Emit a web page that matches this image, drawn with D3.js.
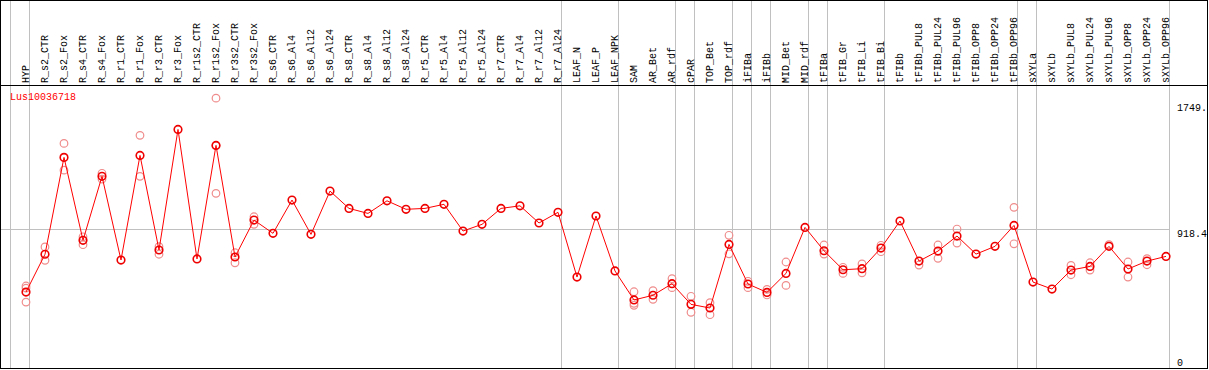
<!DOCTYPE html>
<html>
<head>
<meta charset="utf-8">
<script src="https://cdnjs.cloudflare.com/ajax/libs/d3/7.8.5/d3.min.js"></script>
<style>
  html, body { margin: 0; padding: 0; background: #fff; }
  svg { display: block; }
  text { font-family: "Liberation Mono", "DejaVu Sans Mono", monospace; font-size: 10px; }
</style>
</head>
<body>
<div id="chart"></div>
<script>
// sample names, left to right
var samples = [
  'HYP',
  'R_s2_CTR', 'R_s2_Fox', 'R_s4_CTR', 'R_s4_Fox', 'R_r1_CTR', 'R_r1_Fox',
  'R_r3_CTR', 'R_r3_Fox', 'R_r1s2_CTR', 'R_r1s2_Fox', 'R_r3s2_CTR', 'R_r3s2_Fox',
  'R_s6_CTR', 'R_s6_Al4', 'R_s6_Al12', 'R_s6_Al24',
  'R_s8_CTR', 'R_s8_Al4', 'R_s8_Al12', 'R_s8_Al24',
  'R_r5_CTR', 'R_r5_Al4', 'R_r5_Al12', 'R_r5_Al24',
  'R_r7_CTR', 'R_r7_Al4', 'R_r7_Al12', 'R_r7_Al24',
  'LEAF_N', 'LEAF_P', 'LEAF_NPK',
  'SAM', 'AR_Bet', 'AR_rdf',
  'cPAR',
  'TOP_Bet', 'TOP_rdf',
  'iFIBa',
  'iFIBb',
  'MID_Bet', 'MID_rdf',
  'tFIBa',
  'tFIB_Gr', 'tFIB_Li', 'tFIB_Bi',
  'tFIBb', 'tFIBb_PUL8', 'tFIBb_PUL24', 'tFIBb_PUL96', 'tFIBb_OPP8', 'tFIBb_OPP24', 'tFIBb_OPP96',
  'sXYLa',
  'sXYLb', 'sXYLb_PUL8', 'sXYLb_PUL24', 'sXYLb_PUL96', 'sXYLb_OPP8', 'sXYLb_OPP24', 'sXYLb_OPP96'
];

// number of samples in each tissue group (grey separators)
var groupSizes = [1, 28, 3, 3, 1, 2, 1, 1, 2, 1, 3, 7, 1, 7];

// mean expression per sample
var means = [
  500,
  749, 1387, 841, 1262, 711, 1400, 777, 1571, 718, 1466, 731, 974,
  887, 1106, 880, 1165,
  1051, 1018, 1101, 1045,
  1051, 1078, 902, 946,
  1051, 1068, 955, 1025,
  599, 1001, 639,
  448, 479, 555,
  419,
  395, 814,
  553,
  498,
  623, 926,
  772,
  647, 654, 790,
  968, 704, 770, 869, 750, 801, 939,
  566,
  520, 645, 669, 801, 652, 704, 735
];

// replicate values (only those that stand apart from the mean)
var replicates = [
  [540, 526, 434],
  [797, 709], [1479, 1303], [864, 812], [1282, 1244], [], [1532, 1262],
  [799, 749], [], [], [1777, 1466, 1150], [759, 693], [996, 946],
  [], [], [], [],
  [], [], [], [],
  [], [], [], [],
  [], [], [], [],
  [], [], [],
  [502, 426, 413], [509, 452], [588, 529],
  [472, 367],
  [430, 351], [874, 752],
  [571, 529],
  [518, 481],
  [698, 544], [],
  [810, 750],
  [663, 623], [685, 627], [808, 766],
  [], [678], [810, 722], [915, 823], [], [], [1058, 818],
  [],
  [], [676, 614], [693, 645], [812], [698, 599], [720, 680], []
];

var geneName = 'Lus10036718';
var axisMax = 1749.7;
var axisMean = 918.4;
// right-hand labels, as printed (the top one is cut by the frame)
var axisLabels = ['1749.', '918.4', '0'];

function drawChart()
{
  var width = 1209,
      height = 370,
      headerY = 85.5,
      right = 1207.5,
      bottom = 368.5,
      svg,
      x,
      y,
      bounds = [0],
      i,
      pts
  ;

  svg = d3.select('#chart')
    .append('svg')
      .attr('width', width)
      .attr('height', height);

  x = d3.scaleBand()
    .domain(samples)
    .range([11, 1170])
    .paddingInner(0)
    .paddingOuter(0);

  y = d3.scaleLinear()
    .domain([0, axisMax])
    .range([368, 102.3]);

  for( i = 0; i < groupSizes.length; i++ )
  {
    bounds.push( bounds[i] + groupSizes[i] );
  }

  // group separators
  svg.selectAll('line.sep')
    .data(bounds)
    .enter()
      .append('line')
      .attr('class', 'sep')
      .attr('x1', function(d) { return 10.5 + d * x.bandwidth(); })
      .attr('x2', function(d) { return 10.5 + d * x.bandwidth(); })
      .attr('y1', 0)
      .attr('y2', bottom)
      .attr('stroke', '#c0c0c0')
      .attr('stroke-width', 1);

  // mean line
  svg.append('line')
    .attr('x1', 0)
    .attr('x2', 1169.5)
    .attr('y1', Math.round(y(axisMean)) + 0.5)
    .attr('y2', Math.round(y(axisMean)) + 0.5)
    .attr('stroke', '#c0c0c0')
    .attr('stroke-width', 1);

  // sample labels
  svg.selectAll('text.sample')
    .data(samples)
    .enter()
      .append('text')
      .attr('class', 'sample')
      .attr('transform', function(d)
      {
        return 'translate(' + (x(d) + 17.5) + ',83) rotate(-90)';
      })
      .attr('fill', '#000')
      .text(function(d) { return d; });

  // right axis labels
  svg.selectAll('text.tick')
    .data([
      { v: axisMax, t: axisLabels[0], dy: 8.5 },
      { v: axisMean, t: axisLabels[1], dy: 8.5 },
      { v: 0, t: axisLabels[2], dy: -2.5 }
    ])
    .enter()
      .append('text')
      .attr('class', 'tick')
      .attr('x', 1177)
      .attr('y', function(d) { return y(d.v) + d.dy; })
      .attr('fill', '#000')
      .text(function(d) { return d.t; });

  svg.append('text')
    .attr('x', 10)
    .attr('y', 100)
    .attr('fill', '#ff0000')
    .text(geneName);

  // replicates
  pts = [];
  samples.forEach(function(s, i)
  {
    replicates[i].forEach(function(v)
    {
      pts.push({ s: s, v: v });
    });
  });

  svg.selectAll('circle.rep')
    .data(pts)
    .enter()
      .append('circle')
      .attr('class', 'rep')
      .attr('cx', function(d) { return x(d.s) + 15; })
      .attr('cy', function(d) { return y(d.v); })
      .attr('r', 3.8)
      .attr('fill', 'none')
      .attr('stroke', '#f08c8c')
      .attr('stroke-width', 1.2);

  // mean profile
  svg.append('path')
    .datum(means)
    .attr('fill', 'none')
    .attr('stroke', '#ff0000')
    .attr('stroke-width', 1)
    .attr('d', d3.line()
      .x(function(d, i) { return x(samples[i]) + 15; })
      .y(function(d) { return y(d); }));

  svg.selectAll('circle.mean')
    .data(means)
    .enter()
      .append('circle')
      .attr('class', 'mean')
      .attr('cx', function(d, i) { return x(samples[i]) + 15; })
      .attr('cy', function(d) { return y(d); })
      .attr('r', 3.8)
      .attr('fill', 'none')
      .attr('stroke', '#ee0000')
      .attr('stroke-width', 1.6);

  // frame and header rule
  svg.append('rect')
    .attr('x', 0.5)
    .attr('y', 0.5)
    .attr('width', right - 0.5)
    .attr('height', bottom - 0.5)
    .attr('fill', 'none')
    .attr('stroke', '#000')
    .attr('stroke-width', 1);

  svg.append('line')
    .attr('x1', 0)
    .attr('x2', right)
    .attr('y1', headerY)
    .attr('y2', headerY)
    .attr('stroke', '#000')
    .attr('stroke-width', 1);
}

drawChart();
</script>
</body>
</html>
